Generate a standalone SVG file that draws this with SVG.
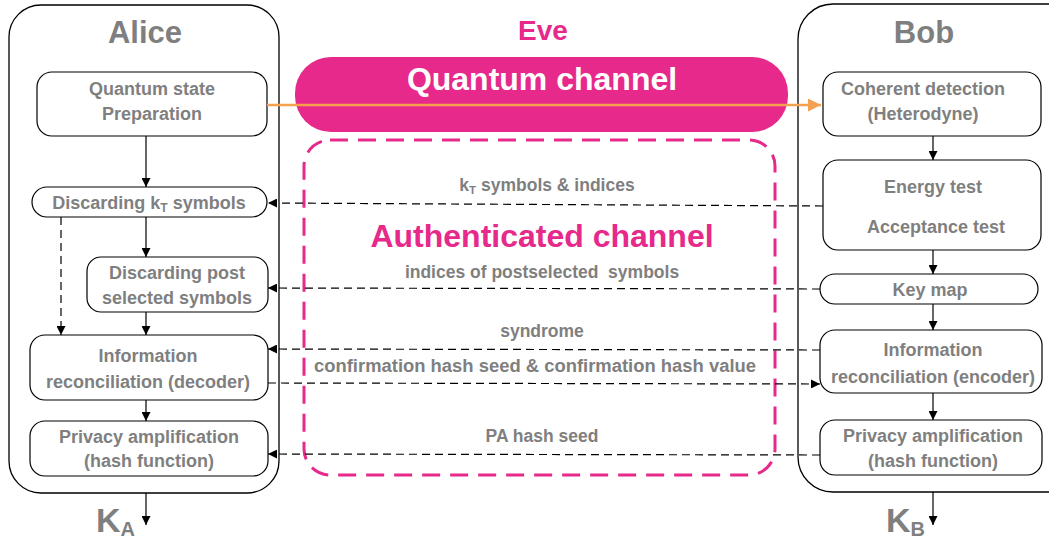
<svg xmlns="http://www.w3.org/2000/svg" width="1049" height="541" viewBox="0 0 1049 541">
<defs>
<style>
.cont{fill:none;stroke:#000;stroke-width:1.3}
.box{fill:#fff;stroke:#000;stroke-width:1.2}
.t{font-family:"Liberation Sans",Arial,sans-serif;font-weight:bold;fill:#7f7f7f;text-anchor:middle}
.bt{font-size:18px}
.lbl{font-size:17.5px}
.title{font-size:31px}
.pink{fill:#e6298a}
.solid{stroke:#000;stroke-width:1.2;fill:none}
.dash{stroke:#000;stroke-width:1.2;fill:none;stroke-dasharray:8 5}
</style>
<marker id="ah" viewBox="0 0 10 10" refX="10" refY="5" markerWidth="9" markerHeight="9" markerUnits="userSpaceOnUse" orient="auto">
<path d="M0,0 L10,5 L0,10 Z" fill="#000"/>
</marker>
<marker id="ahO" viewBox="0 0 10 10" refX="10" refY="5" markerWidth="13" markerHeight="13" markerUnits="userSpaceOnUse" orient="auto">
<path d="M0,0 L10,5 L0,10 Z" fill="#f5a04e"/>
</marker>
</defs>
<rect width="1049" height="541" fill="#fff"/>

<g id="alice">
<rect class="cont" x="9" y="5" width="270" height="488" rx="32"/>
<text class="t title" x="145" y="43">Alice</text>
</g>
<g id="bob">
<rect class="cont" x="798" y="4" width="290" height="488" rx="35"/>
<text class="t title" x="924" y="43" font-size="33">Bob</text>
</g>

<g id="eve">
<text class="t pink" x="543" y="40" font-size="28">Eve</text>
</g>

<g id="quantum-channel">
<rect x="295" y="57" width="493" height="75" rx="36" fill="#e6298a"/>
<text class="t" x="542" y="90" font-size="32" style="fill:#fff">Quantum channel</text>
</g>

<g id="authenticated-channel">
<rect x="304" y="140" width="471" height="335" rx="26" fill="none" stroke="#e6298a" stroke-width="3" stroke-dasharray="18 10"/>
<text class="t pink" x="542" y="247" font-size="32">Authenticated channel</text>
</g>

<g id="a-prep">
<rect class="box" x="37" y="72" width="230" height="64" rx="15"/>
<text class="t bt" x="152" y="95">Quantum state</text>
<text class="t bt" x="152" y="120">Preparation</text>
</g>
<g id="a-discard-kt">
<rect class="box" x="32" y="187" width="235" height="30" rx="15"/>
<text class="t bt" x="149" y="209">Discarding k<tspan font-size="12" dy="3">T</tspan><tspan dy="-3"> symbols</tspan></text>
</g>
<g id="a-discard-post">
<rect class="box" x="87" y="257" width="181" height="55" rx="14"/>
<text class="t bt" x="177" y="279">Discarding post</text>
<text class="t bt" x="177" y="304">selected symbols</text>
</g>
<g id="a-ir">
<rect class="box" x="30" y="335" width="238" height="65" rx="15"/>
<text class="t bt" x="148" y="362">Information</text>
<text class="t bt" x="148" y="388">reconciliation (decoder)</text>
</g>
<g id="a-pa">
<rect class="box" x="30" y="421" width="238" height="55" rx="15"/>
<text class="t bt" x="149" y="443">Privacy amplification</text>
<text class="t bt" x="149" y="467">(hash function)</text>
</g>

<g id="b-detect">
<rect class="box" x="823" y="72" width="218" height="64" rx="15"/>
<text class="t bt" x="923" y="95">Coherent detection</text>
<text class="t bt" x="923" y="120">(Heterodyne)</text>
</g>
<g id="b-tests">
<rect class="box" x="823" y="160" width="218" height="90" rx="15"/>
<text class="t bt" x="933" y="193">Energy test</text>
<text class="t bt" x="936" y="233">Acceptance test</text>
</g>
<g id="b-keymap">
<rect class="box" x="820" y="274" width="218" height="30" rx="15"/>
<text class="t bt" x="930" y="296">Key map</text>
</g>
<g id="b-ir">
<rect class="box" x="820" y="330" width="222" height="63" rx="15"/>
<text class="t bt" x="933" y="356">Information</text>
<text class="t bt" x="933" y="383">reconciliation (encoder)</text>
</g>
<g id="b-pa">
<rect class="box" x="820" y="420" width="222" height="55" rx="15"/>
<text class="t bt" x="933" y="442">Privacy amplification</text>
<text class="t bt" x="933" y="467">(hash function)</text>
</g>

<g id="k-labels">
<text class="t" x="96" y="532" font-size="34" style="text-anchor:start">K<tspan font-size="20" dy="4">A</tspan></text>
<text class="t" x="886" y="532" font-size="34" style="text-anchor:start">K<tspan font-size="20" dy="4">B</tspan></text>
</g>

<g id="connectors">
<line x1="267" y1="105" x2="821" y2="105" stroke="#f5a04e" stroke-width="2.5" marker-end="url(#ahO)"/>
<line class="solid" x1="146" y1="136" x2="146" y2="187" marker-end="url(#ah)"/>
<line class="solid" x1="146" y1="217" x2="146" y2="257" marker-end="url(#ah)"/>
<line class="solid" x1="146" y1="312" x2="146" y2="335" marker-end="url(#ah)"/>
<line class="solid" x1="146" y1="400" x2="146" y2="421" marker-end="url(#ah)"/>
<line class="dash" x1="61" y1="217" x2="61" y2="335" marker-end="url(#ah)"/>
<line class="solid" x1="146" y1="493" x2="146" y2="525" marker-end="url(#ah)"/>

<line class="solid" x1="933" y1="136" x2="933" y2="160" marker-end="url(#ah)"/>
<line class="solid" x1="933" y1="250" x2="933" y2="274" marker-end="url(#ah)"/>
<line class="solid" x1="933" y1="304" x2="933" y2="330" marker-end="url(#ah)"/>
<line class="solid" x1="933" y1="393" x2="933" y2="420" marker-end="url(#ah)"/>
<line class="solid" x1="933" y1="492" x2="933" y2="525" marker-end="url(#ah)"/>

<line class="dash" x1="823" y1="206" x2="268" y2="203" marker-end="url(#ah)"/>
<line class="dash" x1="820" y1="289" x2="268" y2="288" marker-end="url(#ah)"/>
<line class="dash" x1="820" y1="350" x2="268" y2="349" marker-end="url(#ah)"/>
<line class="dash" x1="268" y1="383" x2="820" y2="384" marker-end="url(#ah)"/>
<line class="dash" x1="820" y1="455" x2="268" y2="454" marker-end="url(#ah)"/>

<text class="t lbl" x="547" y="191">k<tspan font-size="11.5" dy="3">T</tspan><tspan dy="-3"> symbols &amp; indices</tspan></text>
<text class="t lbl" x="542" y="278" xml:space="preserve">indices of postselected  symbols</text>
<text class="t lbl" x="542" y="337">syndrome</text>
<text class="t lbl" x="535" y="372" textLength="442" lengthAdjust="spacingAndGlyphs">confirmation hash seed &amp; confirmation hash value</text>
<text class="t lbl" x="542" y="442">PA hash seed</text>
</g>
</svg>
